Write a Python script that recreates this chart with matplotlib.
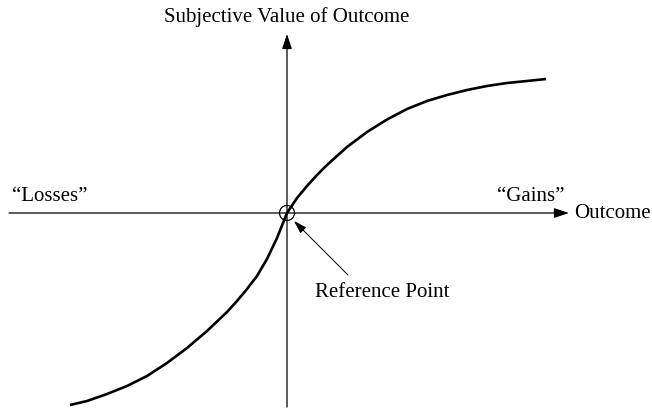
import matplotlib
matplotlib.use("Agg")
import matplotlib.pyplot as plt
from matplotlib.patches import Circle

plt.rcParams['font.family'] = ['Liberation Serif', 'DejaVu Serif']

# value function (outcome, subjective value)
outcome_loss = [-2.17, -2.0, -1.8, -1.6, -1.4, -1.2, -1.0, -0.8, -0.6, -0.5, -0.4, -0.3, -0.2, -0.1, 0.0]
value_loss = [-1.92, -1.88, -1.81, -1.73, -1.63, -1.50, -1.35, -1.18, -0.99, -0.88, -0.76, -0.63, -0.46, -0.25, 0.0]
outcome_gain = [0.0, 0.1, 0.2, 0.3, 0.4, 0.6, 0.8, 1.0, 1.2, 1.4, 1.6, 1.8, 2.0, 2.2, 2.4, 2.59]
value_gain = [0.0, 0.15, 0.27, 0.38, 0.48, 0.66, 0.81, 0.935, 1.04, 1.12, 1.18, 1.23, 1.27, 1.30, 1.32, 1.34]

y_label = "Subjective Value of Outcome"
x_label = "Outcome"
left_label = "\u201cLosses\u201d"
right_label = "\u201cGains\u201d"
ref_label = "Reference Point"

fig = plt.figure(figsize=(6.52, 4.10), dpi=100)
ax = fig.add_axes([0, 0, 1, 1])
ax.set_xlim(-2.87, 3.65)
ax.set_ylim(-1.96, 2.14)
ax.axis("off")

axis_arrow = dict(arrowstyle="-|>,head_length=0.9,head_width=0.3",
                  color="black", lw=0.9, mutation_scale=10, shrinkA=0, shrinkB=0)
ax.annotate("", xy=(2.82, 0), xytext=(-2.78, 0), arrowprops=axis_arrow)
ax.annotate("", xy=(0, 1.79), xytext=(0, -1.94), arrowprops=axis_arrow)

ax.plot(outcome_loss + outcome_gain[1:], value_loss + value_gain[1:],
        color="black", lw=1.9, solid_capstyle="butt", solid_joinstyle="round")

ax.add_patch(Circle((0, 0), 0.075, fill=False, ec="black", lw=0.9))

ax.annotate("", xy=(0.07, -0.08), xytext=(0.61, -0.62),
            arrowprops=dict(arrowstyle="-|>,head_length=0.8,head_width=0.25",
                            color="black", lw=0.7, mutation_scale=10,
                            shrinkA=0, shrinkB=0))

fs = 15
ax.text(0, 1.97, y_label, ha="center", va="center", fontsize=fs)
ax.text(2.87, 0, x_label, ha="left", va="center", fontsize=fs)
ax.text(-2.37, 0.17, left_label, ha="center", va="center", fontsize=fs)
ax.text(2.44, 0.17, right_label, ha="center", va="center", fontsize=fs)
ax.text(0.28, -0.79, ref_label, ha="left", va="center", fontsize=fs)

fig.savefig("out.png", dpi=100)
